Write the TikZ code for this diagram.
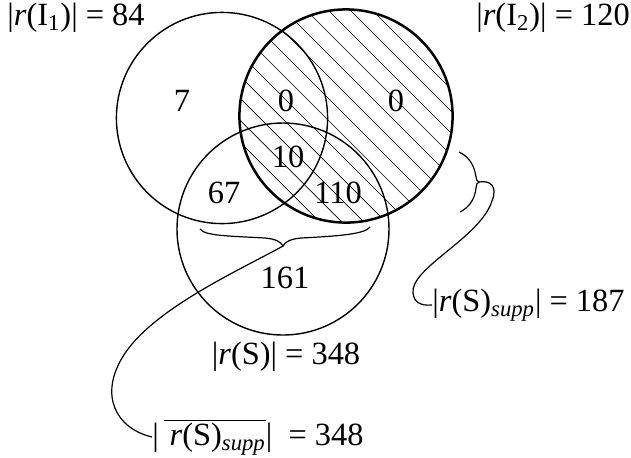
\documentclass[tikz,border=0pt]{standalone}
\usepackage{fontspec}
\setmainfont{Liberation Serif}
\newcommand{\sbx}[1]{\textsubscript{#1}}
\begin{document}
\begin{tikzpicture}[x=0.5pt,y=-0.5pt,
  thinc/.style={line width=0.7pt},
  thickc/.style={line width=1.25pt},
  hatch/.style={line width=0.35pt},
  lbl/.style={font=\fontsize{16.2}{19}\selectfont, inner sep=0pt},
  num/.style={font=\fontsize{16.2}{19}\selectfont, inner sep=0pt},
  brc/.style={line width=0.6pt},
  conn/.style={line width=0.6pt}]
\useasboundingbox (0,0) rectangle (631,457);
% circles
\coordinate (cI1) at (222,118);
\coordinate (cI2) at (346,116);
\coordinate (cS) at (283,229);
% hatching of I2
\begin{scope}
  \clip (cI2) circle[radius=53.3pt];
  \foreach \c in {-264,-242,...,270}{
    \draw[hatch] (346+\c-150,116-150) -- (346+\c+150,116+150);
  }
\end{scope}
\draw[thinc] (cI1) circle[radius=52.8pt];
\draw[thinc] (cS) circle[radius=53pt];
\draw[thickc] (cI2) circle[radius=53.3pt];
% region numbers
\node[num] (n7) at (182,101) {7};
\node[num] (n0a) at (286,101) {0};
\node[num] (n0b) at (396,101) {0};
\node[num] (n10) at (288,157) {10};
\node[num] (n67) at (224,193) {67};
\node[num] (n110) at (338,193) {110};
\node[num] (n161) at (285,278) {161};
% labels
\node[lbl] (lI1) at (76,18) {|\textit{r}(I\sbx{1})| = 84};
\node[lbl] (lI2) at (553,18) {|\textit{r}(I\sbx{2})| = 120};
\node[lbl] (lS) at (286,357) {|\textit{r}(S)| = 348};
\node[lbl,anchor=west] (lnsupp) at (152,437) {|\,$\overline{\mbox{\,\textit{r}(S)\sbx{\textit{supp}}}}$|\ \ = 348};
\node[lbl,anchor=west] (lsupp) at (432,305) {|\textit{r}(S)\sbx{\textit{supp}}| = 187};
% bottom brace
\coordinate (bt) at (283,246);
\draw[brc] (200,229) .. controls (205,236) and (230,236) .. (265,238)
  .. controls (276,239) and (281,242) .. (bt)
  .. controls (285,242) and (290,239) .. (301,238)
  .. controls (340,236) and (365,234) .. (370,227);
% right brace
\coordinate (rt) at (479,182);
\draw[brc] (459,152) .. controls (472,158) and (475,170) .. (476,177)
  .. controls (476.5,180) and (477,181.5) .. (rt)
  .. controls (477,182.5) and (476,185) .. (476,188)
  .. controls (475,198) and (470,207) .. (460,212);
% connectors
\draw[conn] (rt) .. controls (490,180) and (498,186) .. (492,201)
  .. controls (480,238) and (410,268) .. (413,293)
  .. controls (414,302) and (420,306) .. (lsupp.west);
\draw[conn] (bt) .. controls (240,270) and (150,310) .. (122,358)
  .. controls (100,395) and (115,428) .. (lnsupp.west);
\end{tikzpicture}
\end{document}
